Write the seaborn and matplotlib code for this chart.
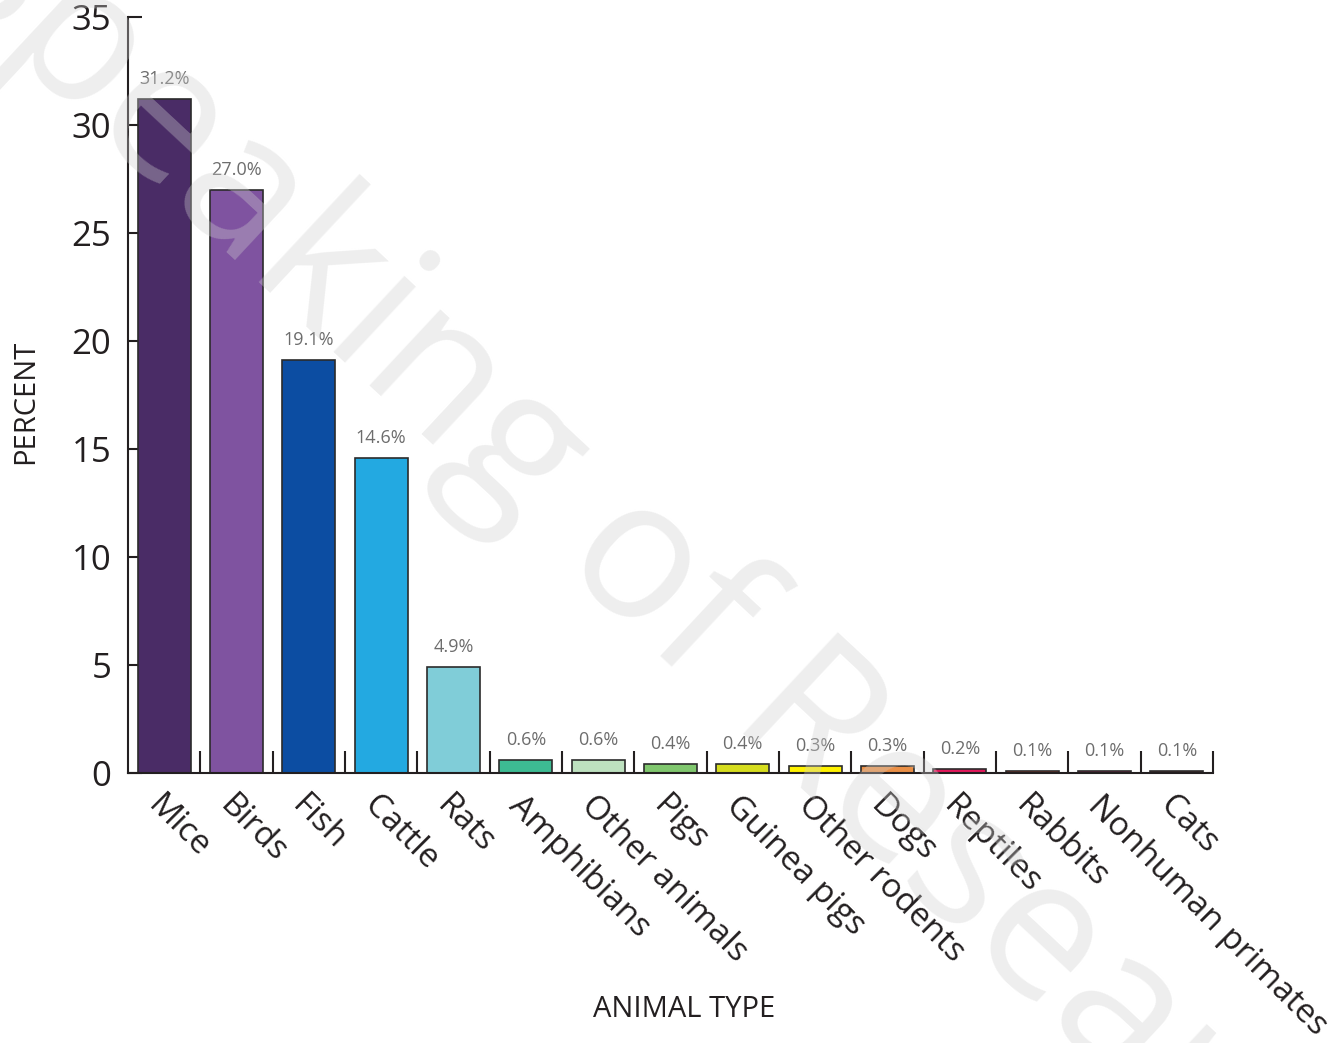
import matplotlib
matplotlib.use("Agg")
import matplotlib.pyplot as plt
import seaborn as sns
import pandas as pd
import numpy as np
from matplotlib.ticker import FixedLocator

sns.set_style("white")
plt.rcParams['font.family'] = ['Open Sans', 'DejaVu Sans']

# --- data ---
animals = ['Mice', 'Birds', 'Fish', 'Cattle', 'Rats', 'Amphibians', 'Other animals',
           'Pigs', 'Guinea pigs', 'Other rodents', 'Dogs', 'Reptiles', 'Rabbits',
           'Nonhuman primates', 'Cats']
percent = [31.2, 27.0, 19.1, 14.6, 4.9, 0.6, 0.6, 0.4, 0.4, 0.3, 0.3, 0.2, 0.1, 0.1, 0.1]
colors = ['#4a2c66', '#7f53a0', '#0c4da2', '#23a9e1', '#80cdd8', '#3dbb93', '#bde1bf',
          '#80c76e', '#d6dd1e', '#fff200', '#ea8f46', '#e2185b', '#ef4023', '#c4185f', '#5b2a2a']
y_ticks = [0, 5, 10, 15, 20, 25, 30, 35]

df = pd.DataFrame({'animal': animals, 'percent': percent})

fig = plt.figure(figsize=(13.44, 10.43), dpi=100)
ax = fig.add_axes([0.0952, 0.2589, 0.8073, 0.7248])

sns.barplot(data=df, x='animal', y='percent', hue='animal', palette=colors,
            legend=False, width=0.73, saturation=1, edgecolor='#2b2b2b',
            linewidth=1.2, ax=ax)

ax.set_xlabel('')
ax.set_ylabel('')
ax.set_xlim(-0.5, len(animals) - 0.5)
ax.set_ylim(0, 35)
ax.set_yticks(y_ticks)
ax.set_yticklabels([str(t) for t in y_ticks], fontsize=25, color='#231f20')

# category labels
ax.set_xticks(range(len(animals)))
ax.set_xticklabels(animals, rotation=-45, ha='left', va='top', rotation_mode='anchor',
                   fontsize=24, color='#231f20')
ax.tick_params(axis='x', which='major', length=0, pad=12)
ax.xaxis.set_minor_locator(FixedLocator(np.arange(0.5, len(animals), 1.0)))
ax.tick_params(axis='x', which='minor', bottom=True, direction='in', length=16,
               width=1.5, color='#231f20')
ax.tick_params(axis='y', left=True, direction='in', length=10, width=1.5,
               color='#231f20', pad=12)

for s in ['top', 'right']:
    ax.spines[s].set_visible(False)
for s in ['left', 'bottom']:
    ax.spines[s].set_color('#231f20')
    ax.spines[s].set_linewidth(1.5)

# value labels
for i, v in enumerate(percent):
    ax.annotate(f'{v:.1f}%', (i, v), xytext=(0, 8), textcoords='offset points',
                ha='center', va='bottom', fontsize=13, color='#6d6d6d')

fig.text(0.019, 0.615, 'PERCENT', rotation=90, ha='center', va='center',
         fontsize=21, color='#231f20')
fig.text(0.509, 0.032, 'ANIMAL TYPE', ha='center', va='center',
         fontsize=21, color='#231f20')

# watermark
fig.text(-0.058, 1.03, 'Speaking of Research', rotation=-43, ha='left', va='baseline',
         rotation_mode='anchor', fontsize=140, color='#cfcfcf', alpha=0.35, zorder=10)

fig.savefig('out.png', dpi=100)
